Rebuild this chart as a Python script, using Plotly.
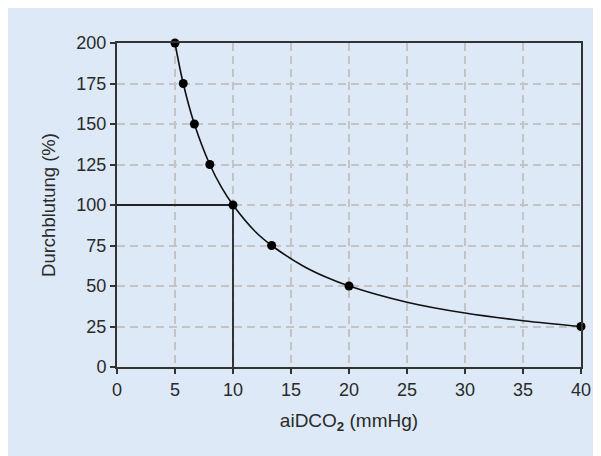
import plotly.graph_objects as go

# Marked data points
point_x = [5, 5.71, 6.67, 8, 10, 13.33, 20, 40]
point_y = [200, 175, 150, 125, 100, 75, 50, 25]

# Curve
curve_x = [5, 5.71, 6.67, 8, 9, 10, 12, 13.33, 16, 18, 20, 25, 30, 35, 40]
curve_y = [200, 175, 150, 125, 111, 100, 83, 75, 62.5, 55.5, 50, 40, 33.3, 28.6, 25]

# Reference lines at 100 %
ref_h_x = [0, 10]
ref_h_y = [100, 100]
ref_v_x = [10, 10]
ref_v_y = [0, 100]

x_ticks = [0, 5, 10, 15, 20, 25, 30, 35, 40]
y_ticks = [0, 25, 50, 75, 100, 125, 150, 175, 200]

BG = "#dde9f6"
INK = "#2a2a2a"
FONT = "Liberation Sans, Arial, sans-serif"

fig = go.Figure()
fig.add_trace(go.Scatter(x=ref_h_x, y=ref_h_y, mode="lines",
                         line=dict(color="#222222", width=1.8), hoverinfo="skip"))
fig.add_trace(go.Scatter(x=ref_v_x, y=ref_v_y, mode="lines",
                         line=dict(color="#222222", width=1.8), hoverinfo="skip"))
fig.add_trace(go.Scatter(x=curve_x, y=curve_y, mode="lines", line_shape="spline",
                         line=dict(color="#111111", width=1.6), hoverinfo="skip"))
fig.add_trace(go.Scatter(x=point_x, y=point_y, mode="markers",
                         marker=dict(color="#000000", size=9), cliponaxis=False))

axis_common = dict(
    showline=True, linecolor="#333333", linewidth=2, mirror=True,
    ticks="outside", ticklen=5, tickcolor="#333333", tickwidth=1.5,
    showgrid=True, gridcolor="#c4c4c4", gridwidth=1.5, griddash="8px,5px",
    zeroline=False, tickfont=dict(size=18, color=INK, family=FONT),
)

fig.update_layout(
    width=601, height=456,
    margin=dict(l=109, r=28, t=35, b=97),
    paper_bgcolor=BG, plot_bgcolor=BG,
    showlegend=False,
    font=dict(family=FONT, color=INK),
    xaxis=dict(range=[0, 40], tickvals=x_ticks, **axis_common,
               title=dict(text="aiDCO<sub><b>2</b></sub> (mmHg)",
                          font=dict(size=19, color=INK), standoff=15)),
    yaxis=dict(range=[0, 200], tickvals=y_ticks, **axis_common,
               title=dict(text="Durchblutung (%)",
                          font=dict(size=18.5, color=INK), standoff=16)),
)

fig.write_html("out.html")
